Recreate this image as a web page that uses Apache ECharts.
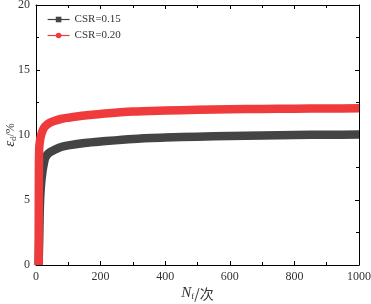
<!DOCTYPE html>
<html>
<head>
<meta charset="utf-8">
<style>
  html, body { margin: 0; padding: 0; background: #fff; }
  #chart { width: 371px; height: 304px; }
</style>
<script src="https://cdn.jsdelivr.net/npm/echarts@6/dist/echarts.min.js"></script>
</head>
<body>
<div id="chart"></div>
<script>
  // CSR=0.15
  var blackN = [8, 10, 12, 15, 20, 25, 28, 35, 45, 60, 80, 100, 150, 200, 300, 400, 500, 600, 700, 800, 900, 1000];
  var blackE = [0, 2, 4.5, 6, 7.2, 7.9, 8.2, 8.5, 8.7, 8.9, 9.1, 9.2, 9.38, 9.5, 9.7, 9.8, 9.87, 9.93, 9.97, 10.0, 10.02, 10.04];
  // CSR=0.20
  var redN = [8, 8.5, 9, 10, 12, 15, 20, 25, 30, 40, 56, 80, 100, 150, 200, 300, 400, 500, 600, 700, 800, 900, 1000];
  var redE = [0, 4, 7.5, 9.0, 9.5, 9.9, 10.3, 10.55, 10.7, 10.9, 11.07, 11.25, 11.33, 11.5, 11.62, 11.8, 11.88, 11.94, 11.98, 12.0, 12.02, 12.04, 12.05];
  var seriesNames = ['CSR=0.15', 'CSR=0.20'];

  function pairs(xs, ys) {
    var out = [];
    for (var i = 0; i < xs.length; i++) out.push([xs[i], ys[i]]);
    return out;
  }

  var font = 'Liberation Serif';
  var chart = echarts.init(document.getElementById('chart'));

  var xBase = {
    type: 'value', min: 0, max: 1000, interval: 200,
    splitLine: { show: false },
    axisLine: { onZero: false, lineStyle: { color: '#000', width: 1 } },
    axisTick: { inside: true, length: 4, lineStyle: { color: '#000' } },
    minorTick: { show: true, splitNumber: 2, length: 3, lineStyle: { color: '#000' } }
  };
  var yBase = {
    type: 'value', min: 0, max: 20, interval: 5,
    splitLine: { show: false },
    axisLine: { onZero: false, lineStyle: { color: '#000', width: 1 } },
    axisTick: { inside: true, length: 4, lineStyle: { color: '#000' } },
    minorTick: { show: true, splitNumber: 2, length: 3, lineStyle: { color: '#000' } }
  };

  var option = {
    animation: false,
    color: ['#444444', '#ef3b3b'],
    grid: { left: 36, right: 12, top: 5, bottom: 39, containLabel: false, outerBoundsMode: 'none' },
    legend: {
      data: seriesNames,
      orient: 'vertical',
      left: 42, top: 9,
      itemWidth: 22, itemHeight: 7, itemGap: 5,
      lineStyle: { width: 1.2 },
      textStyle: { fontFamily: font, fontSize: 11, color: '#333' }
    },
    xAxis: [
      Object.assign({}, xBase, {
        position: 'bottom',
        axisLabel: { fontFamily: font, fontSize: 12, color: '#333', margin: 6, formatter: function (v) { return String(v); } },
        name: '{i|N}{s|f}{t|/次}',
        nameLocation: 'middle', nameGap: 21, nameMoveOverlap: false,
        nameTextStyle: {
          rich: {
            i: { fontFamily: font, fontStyle: 'italic', fontSize: 15, color: '#333' },
            s: { fontFamily: font, fontSize: 9, color: '#333', verticalAlign: 'bottom', padding: [6, 0, 0, 0] },
            t: { fontFamily: 'Noto Sans CJK SC', fontSize: 14, color: '#333' }
          }
        }
      }),
      Object.assign({}, xBase, { position: 'top', axisLabel: { show: false } })
    ],
    yAxis: [
      Object.assign({}, yBase, {
        position: 'left',
        axisLabel: { fontFamily: font, fontSize: 12, color: '#333', margin: 6 },
        name: '{i|ε}{s|d}{t|/%}',
        nameLocation: 'middle', nameGap: 18, nameRotate: 90, nameMoveOverlap: false,
        nameTextStyle: {
          rich: {
            i: { fontFamily: font, fontStyle: 'italic', fontSize: 15, color: '#333' },
            s: { fontFamily: font, fontSize: 9, color: '#333', verticalAlign: 'bottom', padding: [6, 0, 0, 0] },
            t: { fontFamily: font, fontSize: 12, color: '#333' }
          }
        }
      }),
      Object.assign({}, yBase, { position: 'right', axisLabel: { show: false } })
    ],
    series: [
      {
        name: seriesNames[0], type: 'line',
        data: pairs(blackN, blackE),
        symbol: 'rect', symbolSize: 7, showSymbol: false,
        smooth: 0.3,
        lineStyle: { width: 8.5, color: '#444444' },
        itemStyle: { color: '#444444' },
        clip: true, z: 2
      },
      {
        name: seriesNames[1], type: 'line',
        data: pairs(redN, redE),
        symbol: 'circle', symbolSize: 8, showSymbol: false,
        smooth: 0.3,
        lineStyle: { width: 8.5, color: '#ef3b3b' },
        itemStyle: { color: '#ef3b3b' },
        clip: true, z: 3
      }
    ]
  };
  chart.setOption(option);
</script>
</body>
</html>
